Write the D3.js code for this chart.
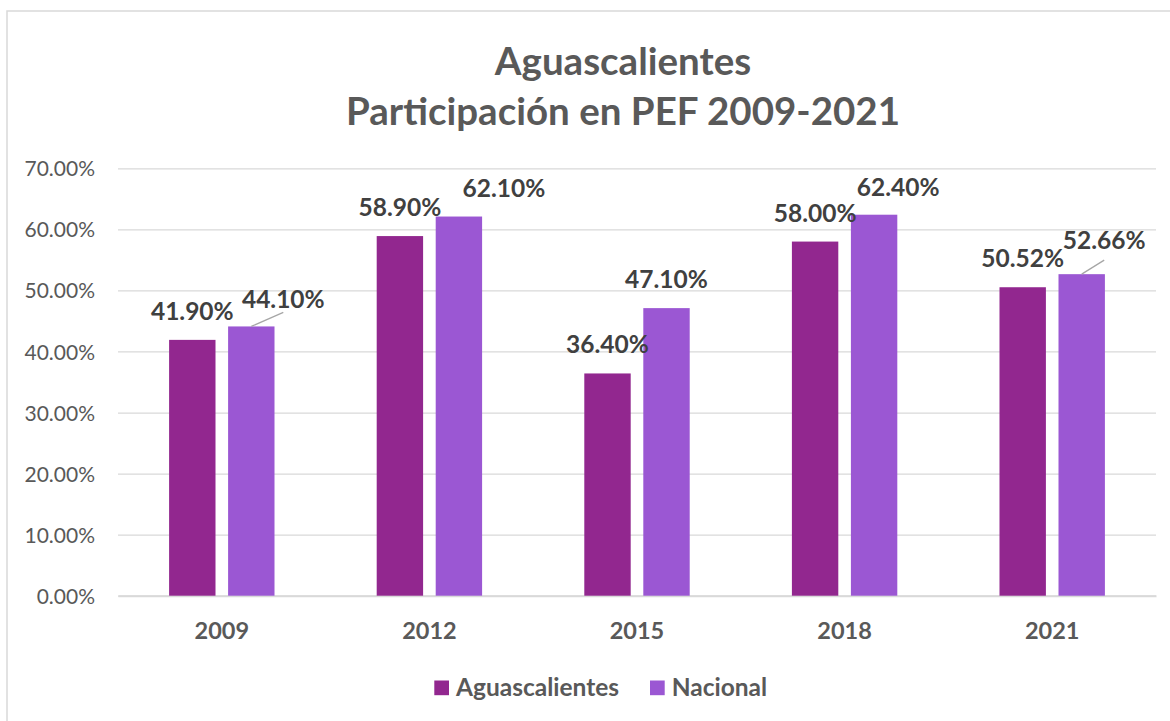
<!DOCTYPE html>
<html>
<head>
<meta charset="utf-8">
<script src="https://cdn.jsdelivr.net/npm/d3@7"></script>
<style>
  html, body { margin: 0; padding: 0; background: #fff; }
  svg { display: block; font-family: Lato, "Open Sans", sans-serif; }
</style>
</head>
<body>
<svg id="chart" width="1170" height="721"></svg>
<script>
// ---- data ----
const categories = ["2009", "2012", "2015", "2018", "2021"];
const seriesNames = ["Aguascalientes", "Nacional"];
const aguascalientes = [41.90, 58.90, 36.40, 58.00, 50.52];
const nacional = [44.10, 62.10, 47.10, 62.40, 52.66];
const yTicks = [0, 10, 20, 30, 40, 50, 60, 70];
const titleLines = ["Aguascalientes", "Participación en PEF 2009-2021"];

// label layout tweaks for the Nacional series (moved labels, as in the source)
const nacLabelShift = [
  { dx: 32, dy: 2, leader: true },
  { dx: 45, dy: 0, leader: false },
  { dx: 0, dy: 0, leader: false },
  { dx: 24, dy: 1, leader: false },
  { dx: 22.5, dy: -5, leader: true }
];

const colors = { "Aguascalientes": "#92278F", "Nacional": "#9B57D3" };
const textColor = "#595959";
const labelColor = "#404040";
const gridColor = "#D9D9D9";

const svg = d3.select("#chart");

// outer chart border (cropped on right/bottom in source)
svg.append("rect")
  .attr("x", 7).attr("y", 11)
  .attr("width", 1200).attr("height", 760)
  .attr("fill", "#fff")
  .attr("stroke", gridColor).attr("stroke-width", 1.5);

const plot = { left: 118, right: 1156, top: 168.3, bottom: 595.7 };

const x0 = d3.scaleBand().domain(categories).range([plot.left, plot.right]).paddingInner(0).paddingOuter(0);
const x1 = d3.scaleBand().domain(seriesNames).range([0, x0.bandwidth()]).paddingInner(0.2136).paddingOuter(0.866);
const y = d3.scaleLinear().domain([0, 70]).range([plot.bottom, plot.top]);

// title
svg.append("g").selectAll("text").data(titleLines).join("text")
  .attr("x", 623)
  .attr("y", (d, i) => 75 + i * 50)
  .attr("text-anchor", "middle")
  .attr("font-weight", 700)
  .attr("font-size", 38.5)
  .attr("fill", textColor)
  .text(d => d);

// gridlines
const yAxis = d3.axisLeft(y).tickValues(yTicks)
  .tickSize(-(plot.right - plot.left))
  .tickPadding(23)
  .tickFormat(d => d.toFixed(2) + "%");
const gAxis = svg.append("g").attr("transform", `translate(${plot.left},0)`).call(yAxis);
gAxis.select(".domain").remove();
gAxis.selectAll(".tick line").attr("stroke", gridColor).attr("stroke-width", 1.3);
gAxis.selectAll(".tick text")
  .attr("font-family", "Lato, sans-serif")
  .attr("font-size", 21)
  .attr("fill", textColor)
  .attr("dy", "0.36em");

// x axis category labels
const xAxis = d3.axisBottom(x0).tickSize(0).tickPadding(0);
const gx = svg.append("g").attr("transform", `translate(0,${plot.bottom})`).call(xAxis);
gx.select(".domain").attr("stroke", gridColor).attr("stroke-width", 2);
gx.selectAll(".tick text")
  .attr("font-family", "Lato, sans-serif")
  .attr("font-size", 23.5)
  .attr("font-weight", 700)
  .attr("fill", textColor)
  .attr("dy", null)
  .attr("y", 43.5);

// bars
const rows = categories.map((c, i) => ({
  cat: c,
  values: [
    { key: "Aguascalientes", value: aguascalientes[i], idx: i },
    { key: "Nacional", value: nacional[i], idx: i }
  ]
}));

const groups = svg.append("g").selectAll("g").data(rows).join("g")
  .attr("transform", d => `translate(${x0(d.cat)},0)`);

groups.selectAll("rect").data(d => d.values).join("rect")
  .attr("x", d => x1(d.key))
  .attr("y", d => y(d.value))
  .attr("width", x1.bandwidth())
  .attr("height", d => y(0) - y(d.value))
  .attr("fill", d => colors[d.key]);

// leader lines
groups.selectAll("line.leader").data(d => d.values.filter(v => v.key === "Nacional" && nacLabelShift[v.idx].leader))
  .join("line")
  .attr("class", "leader")
  .attr("x1", d => x1(d.key) + x1.bandwidth() / 2)
  .attr("y1", d => y(d.value))
  .attr("x2", d => x1(d.key) + x1.bandwidth() / 2 + nacLabelShift[d.idx].dx)
  .attr("y2", d => y(d.value) - 14)
  .attr("stroke", "#A6A6A6")
  .attr("stroke-width", 1.3);

// data labels
groups.selectAll("text.lbl").data(d => d.values).join("text")
  .attr("class", "lbl")
  .attr("x", d => x1(d.key) + x1.bandwidth() / 2 + (d.key === "Nacional" ? nacLabelShift[d.idx].dx : 0))
  .attr("y", d => y(d.value) - 20 + (d.key === "Nacional" ? nacLabelShift[d.idx].dy : 0))
  .attr("text-anchor", "middle")
  .attr("font-size", 24.5)
  .attr("font-weight", 700)
  .attr("fill", labelColor)
  .text(d => d.value.toFixed(2) + "%");

// legend
const legendItems = [
  { key: "Aguascalientes", x: 434.3, tx: 456 },
  { key: "Nacional", x: 650, tx: 671.7 }
];
const lg = svg.append("g");
lg.selectAll("rect").data(legendItems).join("rect")
  .attr("x", d => d.x).attr("y", 680.5)
  .attr("width", 14.7).attr("height", 14.7)
  .attr("fill", d => colors[d.key]);
lg.selectAll("text").data(legendItems).join("text")
  .attr("x", d => d.tx).attr("y", 695.5)
  .attr("font-size", 24.5)
  .attr("font-weight", 700)
  .attr("fill", textColor)
  .text(d => d.key);
</script>
</body>
</html>
